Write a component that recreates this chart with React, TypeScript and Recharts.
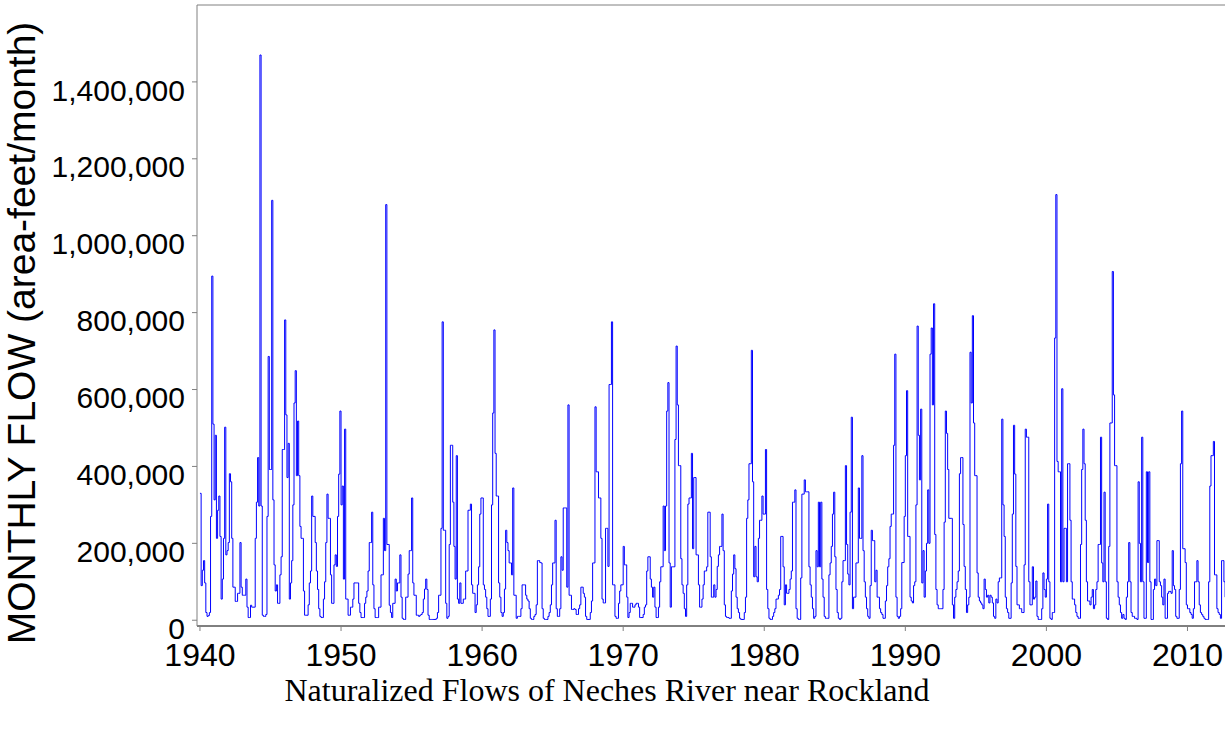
import React from "react";
import { LineChart, Line, XAxis, YAxis, ReferenceLine } from "recharts";

// Monthly naturalized flow, thousand acre-feet, Jan..Dec of each year
const flow1940s = [
  330, 90, 130, 155, 97, 20, 10, 12, 20, 270, 895, 510, // 1940
  313, 481, 213, 286, 323, 218, 55, 107, 213, 502, 170, 181, // 1941
  202, 381, 360, 213, 86, 86, 49, 49, 70, 70, 202, 86, // 1942
  65, 65, 65, 107, 34, 7, 7, 39, 34, 34, 34, 213, // 1943
  307, 423, 297, 1470, 297, 13, 10, 10, 15, 270, 686, 392, // 1944
  392, 1092, 313, 144, 76, 92, 44, 44, 118, 165, 444, 444, // 1945
  781, 534, 371, 460, 55, 97, 155, 300, 565, 649, 376, 518, // 1946
  376, 244, 213, 213, 76, 13, 13, 13, 40, 97, 128, 323, // 1947
  270, 270, 202, 128, 80, 30, 10, 7, 7, 55, 100, 202, // 1948
  328, 265, 265, 118, 44, 44, 144, 170, 140, 270, 380, 544, // 1949
];

const flow1950s = [
  300, 349, 107, 497, 55, 55, 13, 13, 34, 34, 55, 97, // 1950
  97, 97, 97, 44, 20, 7, 7, 7, 44, 60, 76, 128, // 1951
  202, 202, 281, 92, 30, 7, 7, 7, 34, 34, 118, 118, // 1952
  265, 181, 1081, 197, 197, 39, 20, 7, 44, 44, 107, 76, // 1953
  97, 97, 170, 60, 5, 2, 2, 60, 60, 120, 181, 181, // 1954
  318, 97, 65, 65, 13, 13, 10, 13, 15, 20, 55, 81, // 1955
  107, 80, 13, 2, 2, 2, 2, 2, 2, 5, 20, 65, // 1956
  65, 239, 776, 234, 234, 44, 5, 10, 197, 455, 455, 307, // 1957
  192, 107, 428, 55, 44, 97, 44, 44, 55, 55, 128, 128, // 1958
  286, 286, 302, 92, 70, 70, 20, 40, 92, 139, 276, 318, // 1959
];

const flow1960s = [
  318, 92, 80, 60, 30, 10, 10, 55, 300, 539, 755, 434, // 1960
  323, 323, 97, 60, 20, 10, 20, 81, 234, 202, 181, 149, // 1961
  149, 118, 344, 65, 65, 5, 10, 10, 10, 30, 92, 92, // 1962
  92, 65, 55, 50, 30, 5, 2, 2, 10, 15, 40, 155, // 1963
  155, 150, 149, 30, 5, 2, 2, 2, 10, 20, 40, 92, // 1964
  149, 149, 260, 30, 10, 10, 30, 165, 130, 292, 292, 292, // 1965
  86, 560, 65, 65, 28, 28, 30, 28, 15, 15, 30, 40, // 1966
  86, 86, 70, 60, 10, 2, 2, 2, 20, 50, 149, 149, // 1967
  555, 386, 386, 318, 318, 213, 55, 45, 45, 239, 239, 140, // 1968
  613, 613, 776, 92, 92, 10, 5, 5, 44, 76, 92, 92, // 1969
];

const flow1970s = [
  192, 144, 144, 60, 7, 20, 44, 44, 34, 34, 40, 44, // 1970
  44, 34, 7, 7, 7, 15, 34, 40, 128, 165, 165, 107, // 1971
  86, 60, 86, 34, 7, 7, 34, 100, 139, 139, 297, 181, // 1972
  297, 544, 618, 149, 34, 139, 139, 139, 470, 713, 560, 402, // 1973
  402, 160, 92, 70, 30, 10, 92, 302, 318, 318, 434, 186, // 1974
  371, 371, 170, 170, 92, 34, 34, 55, 92, 128, 128, 139, // 1975
  281, 281, 165, 60, 60, 92, 60, 80, 140, 170, 192, 192, // 1976
  276, 181, 40, 10, 7, 7, 5, 5, 76, 120, 170, 134, // 1977
  60, 30, 20, 5, 2, 2, 2, 20, 60, 265, 313, 407, // 1978
  407, 702, 360, 113, 192, 113, 100, 213, 260, 260, 323, 276, // 1979
];

const flow1980s = [
  276, 444, 80, 30, 5, 2, 2, 10, 20, 30, 55, 55, // 1980
  65, 80, 218, 218, 139, 40, 92, 70, 70, 80, 107, 128, // 1981
  307, 307, 339, 30, 5, 2, 2, 110, 328, 328, 365, 334, // 1982
  334, 334, 139, 92, 60, 30, 5, 10, 181, 139, 307, 139, // 1983
  307, 107, 60, 10, 5, 5, 5, 118, 149, 192, 276, 333, // 1984
  165, 80, 20, 5, 2, 5, 100, 155, 155, 402, 197, 120, // 1985
  92, 281, 528, 30, 60, 60, 149, 149, 344, 213, 213, 428, // 1986
  181, 100, 60, 30, 10, 5, 90, 234, 207, 207, 100, 130, // 1987
  60, 60, 30, 20, 15, 5, 5, 50, 90, 139, 160, 244, // 1988
  276, 276, 455, 692, 60, 10, 5, 10, 30, 150, 150, 270, // 1989
];

const flow1990s = [
  428, 597, 218, 218, 60, 50, 45, 90, 100, 300, 765, 481, // 1990
  365, 549, 97, 181, 60, 128, 200, 339, 200, 692, 760, 560, // 1991
  823, 223, 80, 40, 30, 30, 30, 30, 80, 255, 544, 486, // 1992
  392, 265, 265, 265, 40, 5, 60, 80, 100, 128, 381, 423, // 1993
  423, 249, 140, 80, 20, 40, 60, 697, 565, 792, 513, 376, // 1994
  376, 123, 60, 50, 45, 40, 30, 107, 80, 60, 65, 45, // 1995
  65, 60, 45, 10, 5, 55, 45, 100, 110, 110, 523, 300, // 1996
  218, 60, 30, 20, 5, 5, 97, 276, 507, 380, 140, 40, // 1997
  40, 30, 30, 20, 20, 144, 497, 476, 476, 100, 40, 40, // 1998
  139, 55, 60, 102, 10, 2, 2, 2, 30, 123, 80, 60, // 1999
];

const flow2000s = [
  107, 302, 100, 5, 2, 20, 20, 734, 1107, 413, 386, 386, // 2000
  100, 602, 100, 239, 239, 100, 407, 407, 260, 100, 55, 55, // 2001
  40, 20, 10, 5, 5, 197, 392, 497, 407, 260, 100, 50, // 2002
  50, 40, 60, 80, 30, 40, 80, 100, 197, 197, 476, 149, // 2003
  100, 333, 100, 5, 2, 192, 513, 513, 907, 586, 402, 402, // 2004
  100, 60, 40, 20, 5, 15, 5, 2, 60, 100, 202, 100, // 2005
  20, 10, 10, 5, 5, 2, 360, 200, 100, 476, 100, 5, // 2006
  5, 386, 150, 386, 100, 2, 2, 80, 107, 90, 207, 207, // 2007
  100, 90, 60, 40, 107, 5, 5, 70, 75, 75, 70, 181, // 2008
  90, 80, 10, 5, 5, 80, 407, 544, 186, 186, 150, 40, // 2009
];

const flow2010s = [
  30, 30, 20, 15, 5, 30, 100, 100, 155, 100, 40, 20, // 2010
  15, 10, 5, 2, 2, 2, 100, 349, 428, 428, 465, 118, // 2011
  118, 30, 20, 15, 5, 155, 155, 100, 60, 40, 30, 20, // 2012
];

const decadeStarts = [1940, 1950, 1960, 1970, 1980, 1990, 2000, 2010];
const decadeFlows = [flow1940s, flow1950s, flow1960s, flow1970s, flow1980s, flow1990s, flow2000s, flow2010s];

const yearTicks = [1940, 1950, 1960, 1970, 1980, 1990, 2000, 2010];
const flowTicks = [0, 200, 400, 600, 800, 1000, 1200, 1400];

const chartData = decadeFlows.flatMap((vals, d) =>
  vals.map((v, i) => ({ t: decadeStarts[d] + i / 12, flow: v }))
);

const SANS = "'Liberation Sans', Arial, sans-serif";
const SERIF = "'Liberation Serif', 'Times New Roman', serif";

const YTick = ({ x, y, payload }: any) => (
  <text x={x} y={y + 8} dy="0.355em" textAnchor="end" fontSize={30} fontFamily={SANS} fill="#000">
    {(payload.value * 1000).toLocaleString("en-US")}
  </text>
);

const XTick = ({ x, y, payload }: any) => (
  <text x={x} y={y} dy={33} textAnchor="middle" fontSize={32} fontFamily={SANS} fill="#000">
    {payload.value}
  </text>
);

export default function App() {
  return (
    <div style={{ position: "absolute", left: 0, top: 0, width: 1225, height: 734, background: "#fff" }}>
      <LineChart
        width={1225}
        height={734}
        data={chartData}
        margin={{ top: 5, right: 0, bottom: 48, left: 0 }}
      >
        <XAxis
          type="number"
          dataKey="t"
          domain={[1939.79, 2012.66]}
          allowDataOverflow
          ticks={yearTicks}
          height={60}
          stroke="#000"
          tickLine={{ stroke: "#808080" }}
          tickSize={5}
          tick={<XTick />}
        />
        <YAxis
          type="number"
          domain={[-15, 1600]}
          allowDataOverflow
          ticks={flowTicks}
          width={197}
          stroke="#808080"
          tickSize={5}
          tickMargin={7}
          tick={<YTick />}
        />
        <ReferenceLine y={1600} stroke="#808080" />
        <Line
          type="stepAfter"
          dataKey="flow"
          stroke="#0000ff"
          strokeWidth={1}
          dot={false}
          isAnimationActive={false}
        />
      </LineChart>
      <svg
        width={1225}
        height={734}
        style={{ position: "absolute", left: 0, top: 0, pointerEvents: "none" }}
      >
        <text
          transform="translate(35,333) rotate(-90)"
          textAnchor="middle"
          fontSize={39}
          fontFamily={SANS}
          fill="#000"
        >
          MONTHLY FLOW (area-feet/month)
        </text>
        <text x={607} y={701} textAnchor="middle" fontSize={32} fontFamily={SERIF} fill="#000">
          Naturalized Flows of Neches River near Rockland
        </text>
      </svg>
    </div>
  );
}
